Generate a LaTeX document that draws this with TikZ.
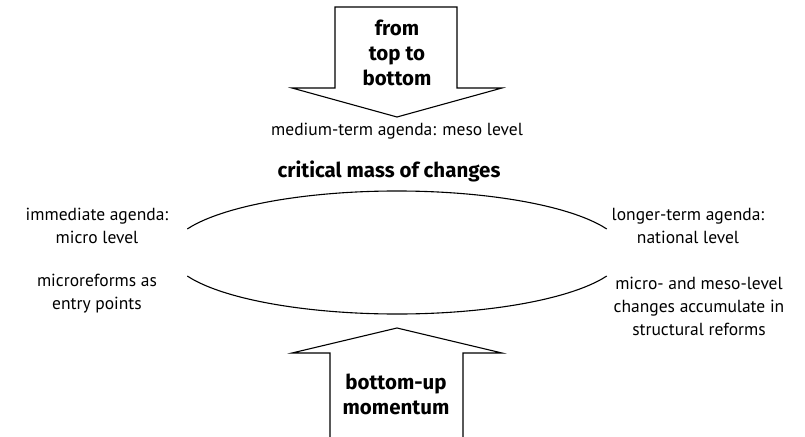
\documentclass[tikz,border=0pt]{standalone}
\usepackage{fontspec}
\setmainfont{PT Sans}
\newfontfamily\headfont{Fira Sans}
\begin{document}
\begin{tikzpicture}[x=1pt,y=-1pt,
  arrowshape/.style={draw=black,line width=1.1pt,fill=white,line join=miter},
  arc/.style={draw=black,line width=1.1pt},
  lbl/.style={align=center,font=\fontsize{17.5}{23}\selectfont,inner sep=0pt},
  blbl/.style={align=center,font=\headfont\fontsize{20.5}{25}\selectfont\bfseries,inner sep=0pt}]
\useasboundingbox (0,0) rectangle (805,436);
% top arrow
\draw[arrowshape] (335,7) -- (457,7) -- (457,88) -- (502,88) -- (397,117) -- (292,88) -- (335,88) -- cycle;
% bottom arrow
\draw[arrowshape] (330,440) -- (330,353) -- (292,353) -- (397,328) -- (502,353) -- (463,353) -- (463,440);
% ellipse arcs
\coordinate (c) at (397,252.5);
\draw[arc] ([shift={(22.5:227 and -61.5)}]c) arc[start angle=22.5,end angle=157.5,x radius=227,y radius=-61.5];
\draw[arc] ([shift={(202.5:227 and -61.5)}]c) arc[start angle=202.5,end angle=337.5,x radius=227,y radius=-61.5];
% texts
\node[blbl] (top) at (397,53) {from\\top to\\bottom};
\node[blbl] (bot) at (396,394) {bottom-up\\momentum};
\node[lbl] (meso) at (397,131) {medium-term agenda: meso level};
\node[blbl] (crit) at (389,171) {critical mass of changes};
\node[lbl] (imm) at (97,226) {immediate agenda:\\micro level};
\node[lbl] (mr) at (97,294) {microreforms as\\entry points};
\node[lbl] (lt) at (688,226) {longer-term agenda:\\national level};
\node[lbl] (acc) at (699,306) {micro- and meso-level\\changes accumulate in\\structural reforms};
\end{tikzpicture}
\end{document}
